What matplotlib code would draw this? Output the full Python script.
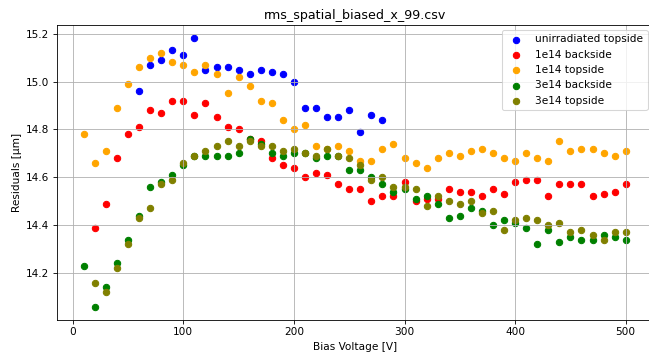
import matplotlib
matplotlib.use("Agg")
import matplotlib.pyplot as plt
import numpy as np

title = "rms_spatial_biased_x_99.csv"
xlabel = "Bias Voltage [V]"
ylabel = "Residuals [\u00b5m]"

# unirradiated topside: 60..280 V
x_unirr = list(range(60, 290, 10))
y_unirr = [14.96, 15.07, 15.09, 15.13, 15.11, 15.18, 15.05, 15.06, 15.06, 15.05,
           15.03, 15.05, 15.04, 15.03, 15.00, 14.89, 14.89, 14.85, 14.85, 14.88,
           14.79, 14.86, 14.84]

# 1e14 backside: 20..500 V
x_1e14_back = list(range(20, 510, 10))
y_1e14_back = [14.39, 14.49, 14.68, 14.78, 14.81, 14.88, 14.87, 14.92, 14.92, 14.86,
               14.91, 14.85, 14.81, 14.80, 14.76, 14.75, 14.68, 14.65, 14.64, 14.60,
               14.62, 14.61, 14.57, 14.55, 14.55, 14.50, 14.52, 14.52, 14.58, 14.50,
               14.51, 14.51, 14.55, 14.54, 14.54, 14.52, 14.55, 14.53, 14.58, 14.59,
               14.59, 14.52, 14.57, 14.57, 14.57, 14.52, 14.53, 14.54, 14.57]

# 1e14 topside: 10..500 V
x_1e14_top = list(range(10, 510, 10))
y_1e14_top = [14.78, 14.66, 14.71, 14.89, 14.99, 15.06, 15.10, 15.12, 15.08, 15.07,
              15.04, 15.07, 15.03, 14.95, 15.02, 14.98, 14.92, 14.91, 14.84, 14.80,
              14.82, 14.73, 14.72, 14.73, 14.71, 14.67, 14.67, 14.72, 14.74, 14.68,
              14.66, 14.64, 14.68, 14.70, 14.69, 14.71, 14.72, 14.70, 14.68, 14.67,
              14.70, 14.68, 14.67, 14.75, 14.71, 14.72, 14.72, 14.70, 14.69, 14.71]

# 3e14 backside: 10..500 V
x_3e14_back = list(range(10, 510, 10))
y_3e14_back = [14.23, 14.06, 14.14, 14.24, 14.34, 14.44, 14.56, 14.58, 14.61, 14.65,
               14.69, 14.69, 14.69, 14.69, 14.70, 14.76, 14.74, 14.70, 14.69, 14.70,
               14.70, 14.68, 14.69, 14.69, 14.63, 14.63, 14.60, 14.57, 14.54, 14.55,
               14.51, 14.52, 14.49, 14.43, 14.44, 14.47, 14.46, 14.40, 14.42, 14.41,
               14.39, 14.32, 14.38, 14.33, 14.35, 14.34, 14.34, 14.36, 14.35, 14.34]

# 3e14 topside: 20..500 V
x_3e14_top = list(range(20, 510, 10))
y_3e14_top = [14.16, 14.12, 14.22, 14.32, 14.43, 14.47, 14.57, 14.59, 14.66, 14.69,
              14.71, 14.73, 14.75, 14.73, 14.75, 14.73, 14.73, 14.71, 14.72, 14.70,
              14.69, 14.72, 14.69, 14.68, 14.65, 14.59, 14.60, 14.56, 14.56, 14.55,
              14.48, 14.52, 14.50, 14.49, 14.50, 14.45, 14.46, 14.38, 14.42, 14.43,
              14.42, 14.40, 14.41, 14.37, 14.38, 14.36, 14.34, 14.37, 14.37]

series = [
    ("unirradiated topside", x_unirr, y_unirr, "blue"),
    ("1e14 backside", x_1e14_back, y_1e14_back, "red"),
    ("1e14 topside", x_1e14_top, y_1e14_top, "orange"),
    ("3e14 backside", x_3e14_back, y_3e14_back, "green"),
    ("3e14 topside", x_3e14_top, y_3e14_top, "olive"),
]

fig = plt.figure(figsize=(649 / 76, 353 / 76), dpi=76)
ax = fig.add_axes([56.7 / 649, 33 / 353, (652.8 - 56.7) / 649, 295 / 353])
for label, xs, ys, c in series:
    ax.scatter(xs, ys, color=c, label=label)
ax.set_title(title)
ax.set_xlabel(xlabel)
ax.set_ylabel(ylabel)
ax.grid(True)
ax.set_yticks([14.2, 14.4, 14.6, 14.8, 15.0, 15.2])
ax.legend(loc="upper right")
fig.savefig("out.png", dpi=76)
